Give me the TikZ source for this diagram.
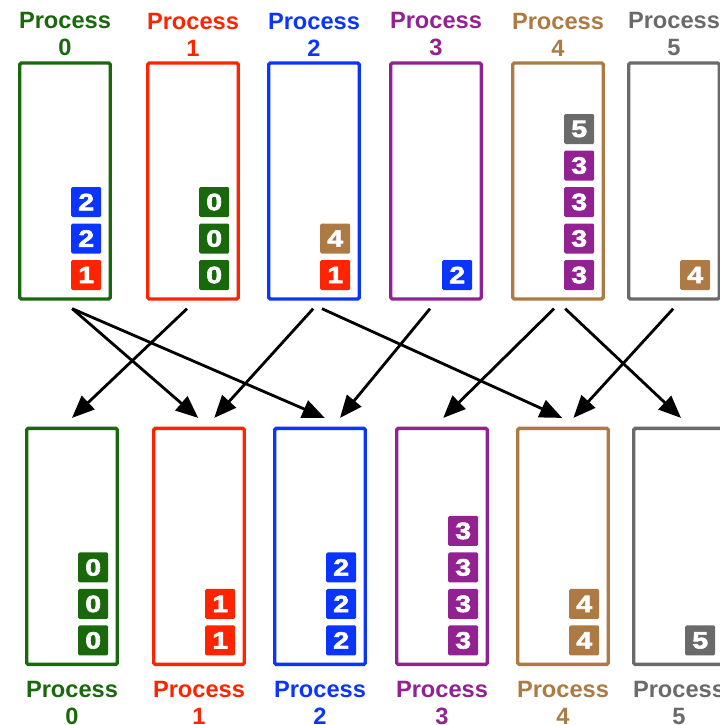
\documentclass[tikz,border=0pt]{standalone}
\usepackage{fontspec}
\usepackage{graphicx}
\setmainfont{Liberation Sans}
\newfontfamily\cellfont[FakeBold=2.5]{Liberation Sans Bold}
\usetikzlibrary{calc,math,positioning,arrows.meta}

\definecolor{pcol0}{RGB}{26,104,12}
\definecolor{pcol1}{RGB}{255,36,0}
\definecolor{pcol2}{RGB}{12,52,255}
\definecolor{pcol3}{RGB}{146,34,146}
\definecolor{pcol4}{RGB}{172,122,66}
\definecolor{pcol5}{RGB}{106,106,106}

\newcommand{\widenum}[1]{\scalebox{1.2}[1]{#1}}

\begin{document}
\begin{tikzpicture}[
  proc/.style={rectangle,rounded corners=1pt,line width=2.4pt,minimum width=2.26cm,minimum height=5.9cm,inner sep=0pt},
  cell/.style={rectangle,rounded corners=1pt,minimum size=0.75cm,inner sep=0pt,anchor=south east,text=white,font=\cellfont\fontsize{16.8}{19}\selectfont},
  lbl/.style={align=center,inner sep=0pt,font=\bfseries\fontsize{16.8}{19.2}\selectfont},
  msg/.style={-{Triangle[length=0.56cm,width=0.46cm]},line width=2pt},
  ]
  \useasboundingbox (0,0) rectangle (17.975,-18.125);

  % before (top) and after (bottom) the exchange
  \foreach \i/\xt/\xb in {0/1.625/1.8,1/4.825/4.975,2/7.85/8.0,3/10.9/11.05,4/13.95/14.075,5/16.85/16.975}
  {
    \node (top_\i) [proc,draw=pcol\i] at (\xt,-4.525) {};
    \node (lbl_top_\i) [lbl,text=pcol\i,above=0.125cm of top_\i] {Process\\\i};
    \node (bot_\i) [proc,draw=pcol\i] at (\xb,-13.66) {};
    \node (lbl_bot_\i) [lbl,text=pcol\i,below=0.375cm of bot_\i] {Process\\\i};
  }

  % items, stacked from the bottom of each process
  \foreach \b/\items in {top_0/{1,2,2},top_1/{0,0,0},top_2/{1,4},top_3/{2},top_4/{3,3,3,3,5},top_5/{4},%
      bot_0/{0,0,0},bot_1/{1,1},bot_2/{2,2,2},bot_3/{3,3,3,3},bot_4/{4,4},bot_5/{5}}
  {
    \foreach \v [count=\k from 0] in \items
    {
      \node (\b_item_\k) [cell,fill=pcol\v] at ($(\b.south east)+(-0.26,0.26+0.9125*\k)$) {\widenum{\v}};
    }
  }

  % messages
  \foreach \s/\ds/\e/\de in {0/0.18/1/-0.02,0/0.18/2/0.12,1/-0.15/0/0,2/-0.02/1/0.38,2/0.2/4/-0.02,%
      3/-0.15/2/0.5,4/-0.1/3/0.03,4/0.18/5/0.05,5/-0.02/4/0.26}
  {
    \draw[msg] ($(top_\s.south)+(\ds,-0.2)$) -- ($(bot_\e.north)+(\de,0.22)$);
  }

\end{tikzpicture}
\end{document}
